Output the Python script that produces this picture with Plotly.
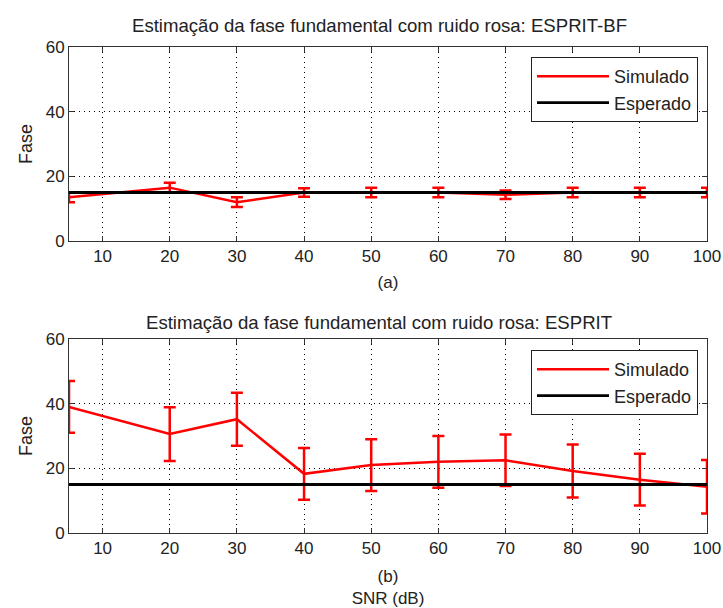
import plotly.graph_objects as go

snr = [5, 20, 30, 40, 50, 60, 70, 80, 90, 100]
fase_bf = [13.5, 16.5, 12.0, 15.0, 15.0, 15.0, 14.3, 15.0, 15.0, 15.0]
err_bf = [1.5, 1.5, 1.5, 1.3, 1.5, 1.5, 1.3, 1.5, 1.5, 1.5]
fase_esprit = [39.0, 30.6, 35.2, 18.3, 21.0, 22.0, 22.5, 19.2, 16.5, 14.3]
err_esprit = [8.0, 8.3, 8.2, 8.0, 8.0, 8.0, 8.0, 8.2, 8.0, 8.3]
esperado = [15.0] * len(snr)

title_a = "Estimação da fase fundamental com ruido rosa: ESPRIT-BF"
title_b = "Estimação da fase fundamental com ruido rosa: ESPRIT"

W, H = 723, 608
font = "Liberation Sans, Arial, sans-serif"

fig = go.Figure()

def add_panel(xa, ya, y, err, legend):
    fig.add_trace(go.Scatter(
        x=snr, y=y, mode="lines", name="Simulado",
        line=dict(color="#ff0000", width=2.5),
        error_y=dict(type="data", array=err, visible=True, color="#ff0000",
                     thickness=2.5, width=6),
        xaxis=xa, yaxis=ya, legend=legend))
    fig.add_trace(go.Scatter(
        x=snr, y=esperado, mode="lines", name="Esperado",
        line=dict(color="#000000", width=2.8),
        xaxis=xa, yaxis=ya, legend=legend))

add_panel("x", "y", fase_bf, err_bf, "legend")
add_panel("x2", "y2", fase_esprit, err_esprit, "legend2")

def px_x(p):
    return p / W

def px_y(p):
    return 1 - p / H

axis_common = dict(
    automargin=False,
    showline=True, linecolor="#333333", linewidth=1, mirror="ticks",
    ticks="inside", ticklen=5, tickcolor="#333333",
    showgrid=True, gridcolor="black", griddash="1px,4px", gridwidth=1,
    zeroline=False, tickfont=dict(family=font, size=17, color="#222222"),
)

xdom = [px_x(69), px_x(707)]
leg_common = dict(xanchor="right", yanchor="top",
                  bgcolor="white", bordercolor="#222222", borderwidth=1,
                  font=dict(family=font, size=18, color="#222222"),
                  itemwidth=72, tracegroupgap=0)
fig.update_layout(
    template="none",
    width=W, height=H,
    margin=dict(l=0, r=0, t=0, b=0, autoexpand=False),
    paper_bgcolor="white", plot_bgcolor="white",
    font=dict(family=font, color="#222222"),
    showlegend=True,
    xaxis=dict(domain=xdom, range=[5, 100], tickvals=list(range(10, 101, 10)),
               anchor="y",
               title=dict(text="(a)", font=dict(size=17), standoff=10),
               **axis_common),
    yaxis=dict(domain=[px_y(241), px_y(47)], range=[0, 60], tickvals=[0, 20, 40, 60],
               anchor="x",
               title=dict(text="Fase", font=dict(size=18), standoff=8),
               **axis_common),
    xaxis2=dict(domain=xdom, range=[5, 100], tickvals=list(range(10, 101, 10)),
                anchor="y2",
                title=dict(text="(b)<br>SNR (dB)", font=dict(size=17), standoff=12),
                **axis_common),
    yaxis2=dict(domain=[px_y(533), px_y(339)], range=[0, 60], tickvals=[0, 20, 40, 60],
                anchor="x2",
                title=dict(text="Fase", font=dict(size=18), standoff=8),
                **axis_common),
    legend=dict(x=px_x(698), y=px_y(57), **leg_common),
    legend2=dict(x=px_x(698), y=px_y(350), **leg_common),
    annotations=[
        dict(text=title_a, x=px_x(379), y=px_y(25), xref="paper", yref="paper",
             showarrow=False, font=dict(family=font, size=18.6, color="#222222"),
             xanchor="center", yanchor="middle"),
        dict(text=title_b, x=px_x(379), y=px_y(322), xref="paper", yref="paper",
             showarrow=False, font=dict(family=font, size=18.6, color="#222222"),
             xanchor="center", yanchor="middle"),
    ],
)

fig.write_html("out.html", config={"displayModeBar": False},
               post_script="document.body.style.margin='0px';")
